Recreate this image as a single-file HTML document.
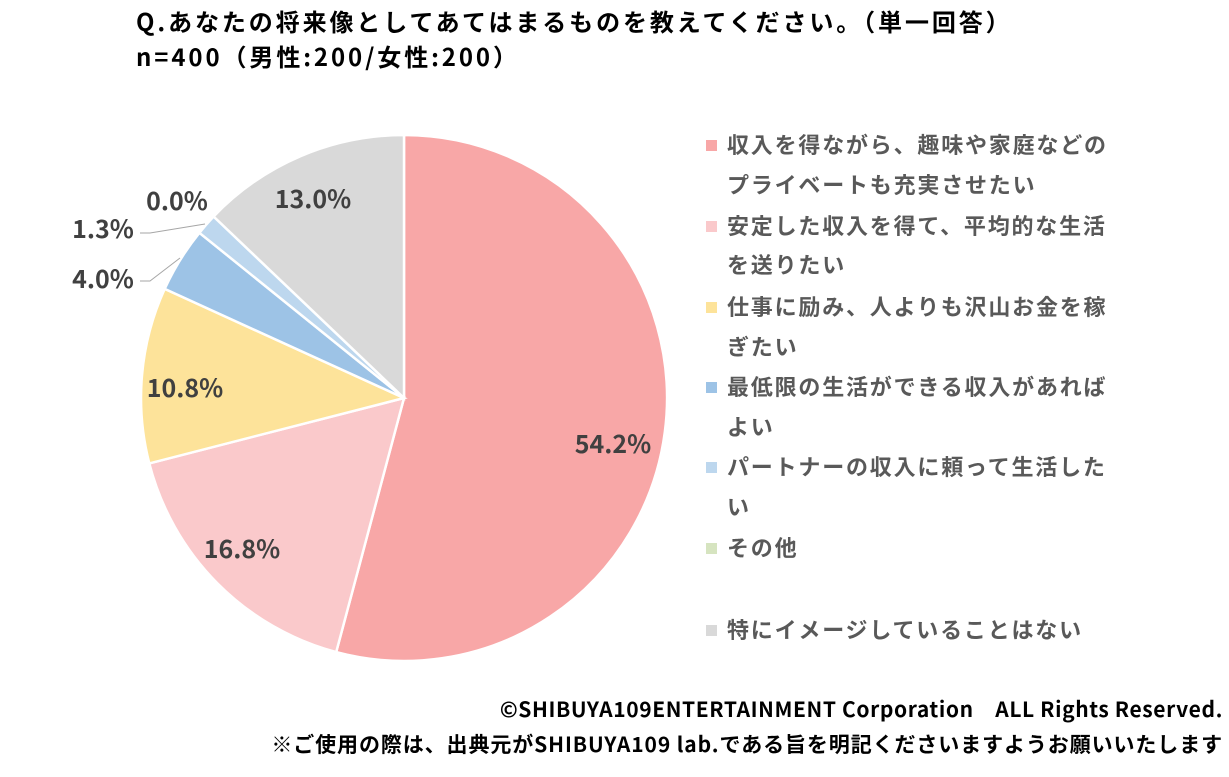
<!DOCTYPE html>
<html><head><meta charset="utf-8"><style>
html,body{margin:0;padding:0;background:#fff;}
body{width:1229px;height:777px;overflow:hidden;position:relative;font-family:"Noto Sans CJK JP","Liberation Sans",sans-serif;}
.t{position:absolute;left:136px;font-size:24px;letter-spacing:2.9px;font-weight:bold;color:#000;white-space:nowrap;line-height:32px;}
.leg{position:absolute;left:706px;font-size:22px;letter-spacing:1.8px;font-weight:bold;color:#595959;white-space:nowrap;line-height:40px;}
.leg i{display:inline-block;width:11px;height:11px;margin-right:10px;vertical-align:2px;}
.leg2{position:absolute;left:727px;font-size:22px;letter-spacing:1.8px;font-weight:bold;color:#595959;white-space:nowrap;line-height:40px;}
.f{position:absolute;right:6px;font-size:21px;letter-spacing:0.9px;font-weight:bold;color:#000;white-space:nowrap;line-height:30px;}
</style></head><body>
<div class="t" style="top:5px">Q.あなたの将来像としてあてはまるものを教えてください。（単一回答）</div>
<div class="t" style="top:40px">n=400（男性:200/女性:200）</div>
<svg width="1229" height="777" style="position:absolute;left:0;top:0">
<g stroke="#fff" stroke-width="2.5">
<path d="M404,398 L404,135 A263,263 0 1 1 336.2,652.1 Z" fill="#F8A7A7"/>
<path d="M404,398 L336.2,652.1 A263,263 0 0 1 149.3,463.4 Z" fill="#FAC9CB"/>
<path d="M404,398 L149.3,463.4 A263,263 0 0 1 164.7,288.9 Z" fill="#FDE39A"/>
<path d="M404,398 L164.7,288.9 A263,263 0 0 1 199.4,232.8 Z" fill="#9DC3E6"/>
<path d="M404,398 L199.4,232.8 A263,263 0 0 1 213.6,216.5 Z" fill="#BDD7EE"/>
<path d="M404,398 L213.6,216.5 A263,263 0 0 1 404,135 Z" fill="#D9D9D9"/>
</g>
<g stroke="#a6a6a6" stroke-width="1" fill="none">
<polyline points="140,281 150,281 180,258"/>
<polyline points="140,233 150,233 205,224"/>
</g>
<g font-family="Noto Sans CJK JP, Liberation Sans, sans-serif" font-weight="bold" font-size="25" fill="#404040" text-anchor="middle">
<text x="613" y="453">54.2%</text>
<text x="242" y="558">16.8%</text>
<text x="185" y="397">10.8%</text>
<text x="103" y="288">4.0%</text>
<text x="103" y="238">1.3%</text>
<text x="177" y="210">0.0%</text>
<text x="313" y="208">13.0%</text>
</g>
</svg>
<div class="leg" style="top:124px"><i style="background:#F8A7A7"></i>収入を得ながら、趣味や家庭などの</div>
<div class="leg2" style="top:164px">プライベートも充実させたい</div>
<div class="leg" style="top:205px"><i style="background:#FAC9CB"></i>安定した収入を得て、平均的な生活</div>
<div class="leg2" style="top:244px">を送りたい</div>
<div class="leg" style="top:286px"><i style="background:#FDE39A"></i>仕事に励み、人よりも沢山お金を稼</div>
<div class="leg2" style="top:326px">ぎたい</div>
<div class="leg" style="top:366px"><i style="background:#9DC3E6"></i>最低限の生活ができる収入があれば</div>
<div class="leg2" style="top:406px">よい</div>
<div class="leg" style="top:446px"><i style="background:#BDD7EE"></i>パートナーの収入に頼って生活した</div>
<div class="leg2" style="top:486px">い</div>
<div class="leg" style="top:527px"><i style="background:#D6E4C0"></i>その他</div>
<div class="leg" style="top:609px"><i style="background:#D9D9D9"></i>特にイメージしていることはない</div>
<div class="f" style="top:694px;letter-spacing:0.6px">©SHIBUYA109ENTERTAINMENT Corporation　ALL Rights Reserved.</div>
<div class="f" style="top:729px">※ご使用の際は、出典元がSHIBUYA109 lab.である旨を明記くださいますようお願いいたします</div>
</body></html>
